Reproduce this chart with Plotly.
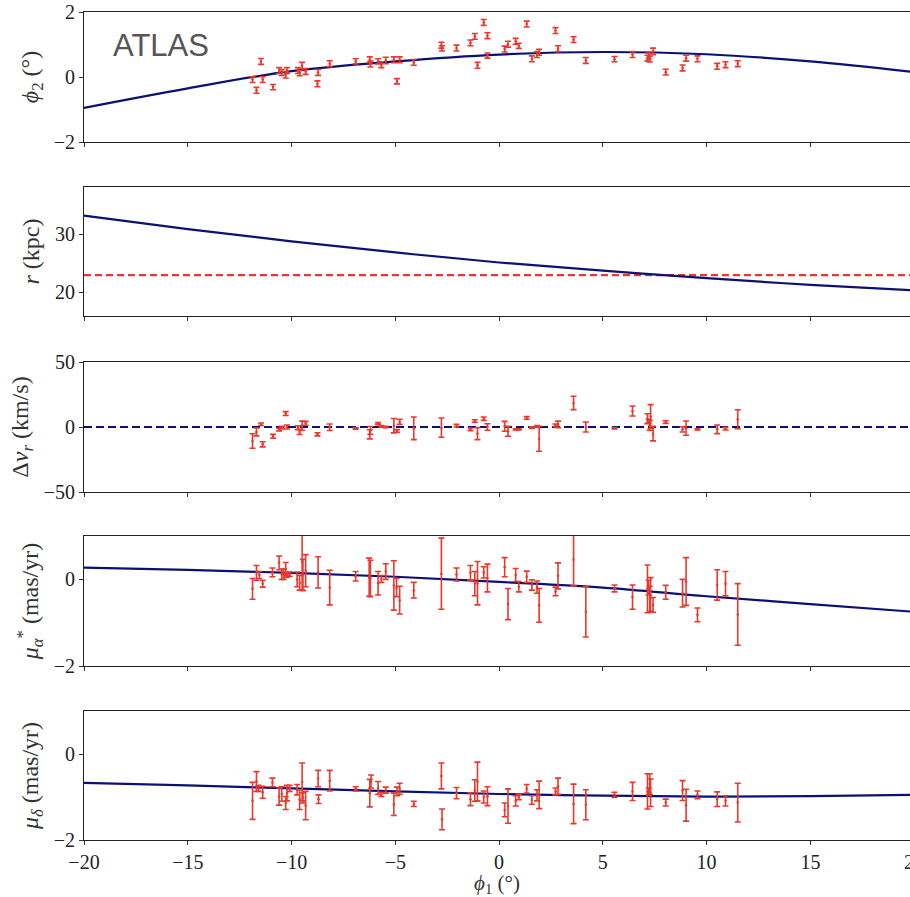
import plotly.graph_objects as go
from plotly.subplots import make_subplots

# ---------------- data ----------------
x_model = [-20, -15, -10, -5, 0, 5, 10, 15, 20]
phi2_model = [-0.95, -0.35, 0.18, 0.48, 0.69, 0.77, 0.70, 0.48, 0.15]
r_model = [33.16, 30.86, 28.74, 26.84, 25.11, 23.70, 22.41, 21.26, 20.30]
mua_model = [0.27, 0.22, 0.15, 0.06, -0.06, -0.19, -0.39, -0.57, -0.75]
mud_model = [-0.67, -0.73, -0.80, -0.87, -0.93, -0.97, -0.99, -0.98, -0.95]
r_obs = 22.93
dv_ref = 0.0

phi2_x = [-11.88, -11.69, -11.47, -11.39, -10.89, -10.60, -10.47, -10.28, -10.22, -9.69,
          -9.61, -9.49, -9.32, -8.75, -8.72, -8.16, -6.91, -6.23, -6.20, -5.83,
          -5.67, -5.46, -5.07, -4.92, -4.79, -4.11, -2.78, -2.75, -2.05, -1.38,
          -1.17, -1.04, -0.74, -0.56, -0.56, 0.27, 0.43, 0.80, 0.95, 1.33,
          1.58, 1.83, 1.93, 2.72, 2.84, 3.59, 4.18, 5.56, 6.43, 7.15,
          7.21, 7.26, 7.42, 8.03, 8.84, 9.01, 9.56, 10.51, 10.91, 11.50]
phi2_y = [-0.08, -0.41, 0.48, -0.08, -0.31, 0.20, 0.14, 0.07, 0.20, 0.20,
          0.12, 0.35, 0.17, -0.21, 0.14, 0.41, 0.48, 0.53, 0.40, 0.48,
          0.38, 0.51, 0.53, -0.13, 0.53, 0.45, 0.98, 0.88, 0.89, 1.05,
          1.25, 0.36, 1.68, 1.27, 0.66, 0.86, 1.01, 1.10, 0.96, 1.63,
          0.56, 0.69, 0.76, 1.43, 0.87, 1.15, 0.51, 0.55, 0.69, 0.58,
          0.65, 0.55, 0.79, 0.15, 0.28, 0.58, 0.56, 0.33, 0.38, 0.41]
phi2_err = [0.09, 0.09, 0.09, 0.09, 0.08, 0.09, 0.09, 0.10, 0.09, 0.09,
            0.08, 0.10, 0.09, 0.09, 0.09, 0.09, 0.08, 0.09, 0.09, 0.08,
            0.09, 0.10, 0.09, 0.08, 0.09, 0.09, 0.09, 0.08, 0.09, 0.09,
            0.09, 0.09, 0.09, 0.09, 0.08, 0.09, 0.09, 0.09, 0.08, 0.09,
            0.09, 0.09, 0.09, 0.09, 0.09, 0.09, 0.09, 0.08, 0.09, 0.09,
            0.09, 0.09, 0.10, 0.09, 0.09, 0.09, 0.09, 0.09, 0.09, 0.09]

dv_x = [-11.88, -11.69, -11.47, -11.39, -10.89, -10.60, -10.47, -10.28, -10.22, -9.69,
        -9.61, -9.49, -9.32, -8.75, -8.16, -6.91, -6.23, -6.20, -5.83, -5.67,
        -5.46, -5.07, -4.92, -4.79, -4.11, -2.78, -2.05, -1.38, -1.17, -1.04,
        -0.74, -0.56, 0.27, 0.43, 0.80, 0.95, 1.33, 1.58, 1.83, 1.93,
        2.72, 2.84, 3.59, 4.18, 5.56, 6.43, 7.15, 7.21, 7.26, 7.30,
        7.42, 8.03, 8.84, 9.01, 9.56, 10.51, 10.91, 11.50]
dv_y = [-10.8, -3.8, 2.1, -13.3, -7.2, -2.0, -0.5, 10.3, 0.0, -0.5,
        -3.8, 1.0, 2.8, -5.6, -0.2, -1.0, -5.6, -2.6, 2.6, 0.5,
        0.0, 1.0, -3.0, 4.0, -1.0, -0.5, 1.0, -1.8, 4.6, -5.1,
        6.4, 0.0, 0.5, -3.3, -1.8, -1.8, 7.0, -0.5, 0.5, -9.0,
        1.3, 2.0, 18.5, 0.0, -1.0, 12.3, 6.4, 4.6, 1.3, 8.0,
        -5.1, 3.8, -1.8, -0.9, -1.8, -1.8, -1.3, 6.0]
dv_err = [5.6, 3.0, 1.0, 2.0, 1.5, 1.0, 1.0, 1.5, 1.5, 1.5,
          2.0, 3.5, 1.5, 1.2, 2.5, 0.6, 3.5, 3.0, 0.8, 0.6,
          0.6, 5.5, 1.0, 2.0, 8.7, 7.4, 1.0, 1.0, 1.0, 4.6,
          1.3, 2.5, 3.8, 3.8, 0.5, 0.5, 1.0, 0.6, 0.6, 9.6,
          1.0, 2.5, 5.1, 3.8, 0.5, 3.8, 3.8, 1.3, 3.8, 9.2,
          5.6, 1.0, 2.0, 5.5, 0.5, 3.3, 1.0, 7.3]

mua_x = [-11.88, -11.69, -11.55, -11.39, -10.92, -10.60, -10.47, -10.38, -10.28, -10.22,
         -10.09, -9.73, -9.61, -9.49, -9.45, -9.32, -8.72, -8.16, -6.91, -6.26,
         -6.20, -5.83, -5.67, -5.46, -5.07, -4.94, -4.79, -4.11, -2.78, -2.05,
         -1.38, -1.17, -1.04, -0.74, -0.56, 0.27, 0.43, 0.80, 0.95, 1.33,
         1.58, 1.83, 1.93, 2.72, 2.84, 3.59, 4.18, 5.56, 6.43, 7.15,
         7.21, 7.26, 7.30, 7.42, 8.03, 8.84, 9.01, 9.56, 10.51, 10.91, 11.50]
mua_y = [-0.22, 0.15, 0.10, -0.10, 0.16, 0.38, 0.12, 0.12, 0.24, 0.10,
         0.12, 0.00, -0.08, 0.40, 0.10, 0.20, 0.16, -0.19, 0.07, 0.05,
         0.02, -0.09, 0.01, 0.18, -0.14, -0.19, -0.48, -0.25, 0.13, 0.11,
         0.15, -0.10, -0.09, 0.16, 0.03, 0.28, -0.57, 0.10, -0.17, 0.06,
         -0.13, -0.18, -0.60, -0.28, 0.08, 0.45, -0.75, -0.21, -0.41, -0.22,
         -0.19, -0.45, -0.36, -0.59, -0.30, -0.32, -0.05, -0.82, -0.13, -0.10, -0.81]
mua_err = [0.24, 0.17, 0.08, 0.08, 0.10, 0.16, 0.12, 0.12, 0.15, 0.05,
           0.05, 0.17, 0.17, 0.65, 0.36, 0.37, 0.36, 0.40, 0.11, 0.44,
           0.42, 0.27, 0.08, 0.18, 0.57, 0.21, 0.32, 0.18, 0.82, 0.15,
           0.17, 0.28, 0.50, 0.13, 0.32, 0.22, 0.36, 0.15, 0.12, 0.13,
           0.12, 0.14, 0.39, 0.10, 0.30, 0.60, 0.58, 0.08, 0.28, 0.55,
           0.17, 0.29, 0.40, 0.17, 0.16, 0.32, 0.55, 0.16, 0.35, 0.28, 0.71]

mud_x = [-11.88, -11.69, -11.59, -11.39, -10.92, -10.60, -10.47, -10.28, -10.22, -10.09,
         -9.73, -9.61, -9.49, -9.45, -9.32, -8.72, -8.70, -8.16, -6.91, -6.23,
         -6.17, -5.83, -5.67, -5.46, -5.07, -4.92, -4.79, -4.11, -2.78, -2.75,
         -2.05, -1.38, -1.17, -1.04, -0.74, -0.56, 0.27, 0.43, 0.80, 0.95,
         1.33, 1.58, 1.83, 1.93, 2.72, 2.84, 3.59, 4.18, 5.56, 6.43,
         7.15, 7.21, 7.26, 7.30, 8.03, 8.84, 9.01, 9.56, 10.51, 10.91, 11.50]
mud_y = [-1.09, -0.64, -0.80, -0.89, -0.66, -0.99, -0.93, -1.14, -0.91, -0.80,
         -0.83, -1.06, -0.65, -1.02, -1.20, -0.57, -1.05, -0.62, -0.81, -0.91,
         -0.64, -0.79, -0.94, -0.84, -1.17, -0.87, -0.81, -1.16, -0.51, -1.52,
         -0.91, -1.05, -0.85, -0.64, -1.00, -0.98, -1.30, -1.21, -1.09, -1.00,
         -0.81, -1.07, -0.96, -0.95, -0.87, -0.75, -1.16, -1.18, -0.95, -0.87,
         -0.87, -0.87, -0.70, -0.90, -1.13, -0.85, -1.19, -0.95, -1.05, -1.09, -1.13]
mud_err = [0.43, 0.23, 0.07, 0.14, 0.10, 0.20, 0.17, 0.15, 0.18, 0.07,
           0.12, 0.23, 0.44, 0.12, 0.33, 0.19, 0.10, 0.24, 0.05, 0.32,
           0.15, 0.15, 0.05, 0.07, 0.26, 0.10, 0.13, 0.06, 0.30, 0.24,
           0.13, 0.15, 0.25, 0.45, 0.14, 0.22, 0.16, 0.40, 0.12, 0.06,
           0.10, 0.10, 0.13, 0.32, 0.08, 0.19, 0.46, 0.35, 0.06, 0.21,
           0.41, 0.08, 0.24, 0.32, 0.08, 0.23, 0.37, 0.09, 0.17, 0.12, 0.45]

y_titles = ["<i>ϕ</i><sub>2</sub> (°)", "<i>r</i> (kpc)", "Δ<i>v</i><sub><i>r</i></sub> (km/s)",
            "<i>μ</i><sub><i>α</i></sub><sup>*</sup> (mas/yr)", "<i>μ</i><sub><i>δ</i></sub> (mas/yr)"]
y_ranges = [[-2, 2], [15.9, 38.1], [-50, 50], [-2, 1], [-2, 1]]
y_ticks = [[-2, 0, 2], [20, 30], [-50, 0, 50], [-2, 0], [-2, 0]]
x_ticks = [-20, -15, -10, -5, 0, 5, 10, 15, 20]
x_title = "<i>ϕ</i><sub>1</sub> (°)"
label = "ATLAS"

# ---------------- style ----------------
RED = "#e8392e"
NAVY = "#0b1172"
FONT = "Liberation Serif"
TICK_SIZE = 20
TITLE_SIZE = 24
W, H = 910, 897
ML, MT, MB = 84, 12, 57
panel_px = [(12, 142), (187, 316), (362, 492), (536, 666), (711, 840)]
plot_h = H - MT - MB

fig = make_subplots(rows=5, cols=1, shared_xaxes=True)


def add_pts(row, xs, ys, es):
    fig.add_trace(go.Scatter(
        x=xs, y=ys, mode="markers",
        marker=dict(color=RED, size=2.5),
        error_y=dict(type="data", array=es, color=RED, thickness=1.6, width=3),
        showlegend=False, hoverinfo="skip"), row=row, col=1)


def add_line(row, xs, ys, color, dash=None):
    fig.add_trace(go.Scatter(
        x=xs, y=ys, mode="lines",
        line=dict(color=color, width=2.2, dash=dash, shape="spline" if dash is None else "linear"),
        showlegend=False, hoverinfo="skip"), row=row, col=1)


add_line(1, x_model, phi2_model, NAVY)
add_pts(1, phi2_x, phi2_y, phi2_err)

add_line(2, [x_model[0], x_model[-1]], [r_obs, r_obs], RED, dash="7px,4px")
add_line(2, x_model, r_model, NAVY)

add_line(3, [x_model[0], x_model[-1]], [dv_ref, dv_ref], NAVY, dash="8px,4px")
add_pts(3, dv_x, dv_y, dv_err)

add_line(4, x_model, mua_model, NAVY)
add_pts(4, mua_x, mua_y, mua_err)

add_line(5, x_model, mud_model, NAVY)
add_pts(5, mud_x, mud_y, mud_err)

for i in range(5):
    top, bot = panel_px[i]
    d0 = (H - MB - bot) / plot_h
    d1 = (H - MB - top) / plot_h
    fig.update_yaxes(
        row=i + 1, col=1, domain=[d0, d1], range=y_ranges[i],
        tickvals=y_ticks[i], ticks="outside", ticklen=4, tickwidth=1, tickcolor="#333",
        showline=True, linecolor="#222", linewidth=1, mirror=True,
        showgrid=False, zeroline=False,
        tickfont=dict(family=FONT, size=TICK_SIZE, color="#222"),
        title=dict(text=y_titles[i], font=dict(family=FONT, size=TITLE_SIZE, color="#333"), standoff=8))
    fig.update_xaxes(
        row=i + 1, col=1, range=[-20, 19.8], tickvals=x_ticks,
        ticks="outside", ticklen=4, tickwidth=1, tickcolor="#333",
        showline=True, linecolor="#222", linewidth=1, mirror=True,
        showgrid=False, zeroline=False,
        showticklabels=(i == 4),
        tickfont=dict(family=FONT, size=TICK_SIZE, color="#222"))

fig.update_xaxes(row=5, col=1, title=dict(text=x_title, font=dict(family=FONT, size=21, color="#333"), standoff=4))

fig.add_annotation(text=label, xref="paper", yref="paper",
                   x=(111 - ML) / (W - ML), y=(H - MB - 46) / plot_h,
                   xanchor="left", yanchor="middle", showarrow=False,
                   font=dict(family="Liberation Sans", size=31, color="#555555"))
# partially visible last tick label at the cut right edge
fig.add_annotation(text="20", xref="paper", yref="paper",
                   x=(914 - ML) / (W - ML), y=-(862 - (H - MB)) / plot_h,
                   xanchor="center", yanchor="middle", showarrow=False,
                   font=dict(family=FONT, size=TICK_SIZE, color="#222"))

fig.update_layout(width=W, height=H, margin=dict(l=ML, r=0, t=MT, b=MB),
                  plot_bgcolor="white", paper_bgcolor="white")

fig.write_html("out.html")
